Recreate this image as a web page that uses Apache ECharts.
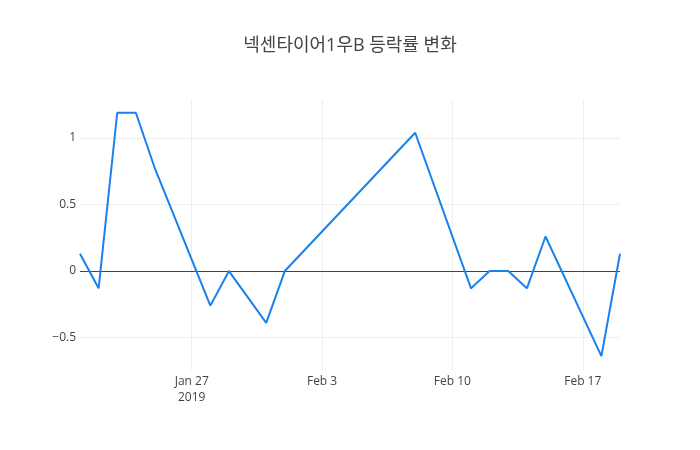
<!DOCTYPE html>
<html>
<head>
<meta charset="utf-8">
<script src="https://cdn.jsdelivr.net/npm/echarts@6/dist/echarts.min.js"></script>
<style>
  html, body { margin: 0; padding: 0; background: #fff; }
  #chart { width: 700px; height: 450px; }
</style>
</head>
<body>
<div id="chart"></div>
<script>
const titleText = '넥센타이어1우B 등락률 변화';
const dates = ['2019-01-21', '2019-01-22', '2019-01-23', '2019-01-24', '2019-01-25',
  '2019-01-28', '2019-01-29', '2019-01-31', '2019-02-01', '2019-02-08',
  '2019-02-11', '2019-02-12', '2019-02-13', '2019-02-14', '2019-02-15',
  '2019-02-18', '2019-02-19'];
const changes = [0.13, -0.13, 1.19, 1.19, 0.78,
  -0.26, 0, -0.39, 0, 1.04,
  -0.13, 0, 0, -0.13, 0.26,
  -0.64, 0.13];
const xTicks = ['2019-01-27', '2019-02-03', '2019-02-10', '2019-02-17'];
const yTicks = [-0.5, 0, 0.5, 1];
const monthNames = ['Jan', 'Feb', 'Mar', 'Apr', 'May', 'Jun', 'Jul', 'Aug', 'Sep', 'Oct', 'Nov', 'Dec'];

// dates -> ms, axis is a plain value axis so custom ticks work
function toTime(s) {
  const p = s.split('-').map(Number);
  return Date.UTC(p[0], p[1] - 1, p[2]);
}

const xTickTimes = xTicks.map(toTime);
const seriesData = dates.map((d, i) => [toTime(d), changes[i]]);

const chart = echarts.init(document.getElementById('chart'));
const option = {
  animation: false,
  textStyle: { fontFamily: "'Open Sans', 'Noto Sans CJK KR', sans-serif" },
  title: {
    text: titleText,
    left: 'center',
    top: 32,
    textStyle: {
      fontFamily: "'Open Sans', 'Noto Sans CJK KR', sans-serif",
      fontSize: 18,
      fontWeight: 'normal',
      color: '#444'
    }
  },
  grid: { left: 80, right: 80, top: 100, bottom: 80 },
  xAxis: {
    type: 'value',
    min: toTime(dates[0]),
    max: toTime(dates[dates.length - 1]),
    axisLine: { show: false },
    axisTick: { show: false, customValues: xTickTimes },
    splitLine: { show: true, lineStyle: { color: '#eee', width: 1 } },
    axisLabel: {
      customValues: xTickTimes,
      color: '#444',
      fontSize: 12,
      margin: 4,
      lineHeight: 16,
      formatter: function (v) {
        const d = new Date(v);
        let s = monthNames[d.getUTCMonth()] + ' ' + d.getUTCDate();
        if (v === xTickTimes[0]) s += '\n' + d.getUTCFullYear();
        return s;
      }
    }
  },
  yAxis: {
    type: 'value',
    min: -0.744,
    max: 1.286,
    axisLine: { show: false },
    axisTick: { show: false, customValues: yTicks },
    splitLine: { show: true, lineStyle: { color: '#eee', width: 1 } },
    axisLabel: {
      customValues: yTicks,
      color: '#444',
      fontSize: 12,
      margin: 4,
      formatter: function (v) {
        return v < 0 ? '\u2212' + Math.abs(v) : String(v);
      }
    }
  },
  series: [{
    type: 'line',
    data: seriesData,
    showSymbol: false,
    lineStyle: { color: '#1a80ec', width: 2 },
    itemStyle: { color: '#1a80ec' },
    markLine: {
      silent: true,
      symbol: 'none',
      label: { show: false },
      lineStyle: { color: '#444', width: 1, type: 'solid' },
      data: [{ yAxis: 0 }],
      z: 1
    },
    z: 3
  }]
};
chart.setOption(option);
</script>
</body>
</html>
